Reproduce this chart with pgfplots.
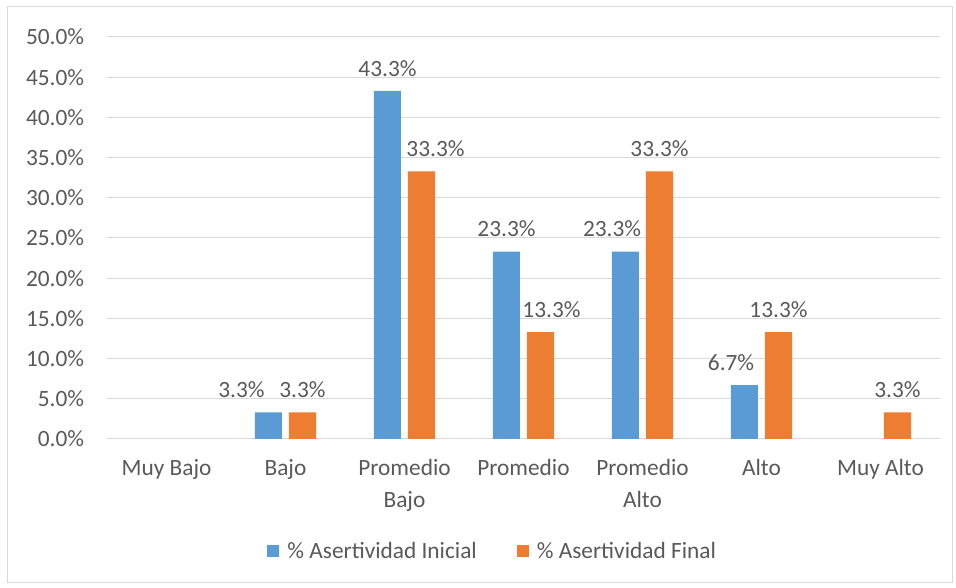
\documentclass[border=0pt]{standalone}
\usepackage{fontspec}
\setmainfont{Carlito}
\usepackage{pgfplots}
\usepackage{pgfplotstable}
\pgfplotsset{compat=1.18}
\definecolor{barblue}{RGB}{91,155,213}
\definecolor{barorange}{RGB}{237,125,49}
\definecolor{gridgray}{RGB}{217,217,217}
\definecolor{textgray}{RGB}{89,89,89}

% x = categoria, y = porcentaje, dx = desplazamiento de la etiqueta (pt)
\pgfplotstableread{
x y dx
1 3.3 -20.25
2 43.3 0
3 23.3 0
4 23.3 -10.1
5 6.7 -10.1
}\inicial
\pgfplotstableread{
x y dx
1 3.3 0
2 33.3 10.5
3 13.3 8.25
4 33.3 0
5 13.3 0
6 3.3 0
}\final

\begin{document}
\begin{tikzpicture}
\path[use as bounding box] (0pt,0pt) rectangle (717pt,441pt);
\draw[gridgray, line width=0.75pt] (5.25pt,3.75pt) rectangle (714pt,435.75pt);
\begin{axis}[
  at={(80.25pt,111.75pt)}, anchor=south west,
  scale only axis, width=624.75pt, height=301.5pt,
  ybar, bar width=20.25pt,
  ymin=0, ymax=50, ytick={0,5,...,50},
  xmin=-0.5, xmax=6.5, xtick={0,...,6},
  xticklabels={Muy Bajo, Bajo, {Promedio\\Bajo}, Promedio, {Promedio\\Alto}, Alto, Muy Alto},
  axis lines*=left,
  y axis line style={draw=none},
  x axis line style={gridgray, line width=0.75pt},
  major tick length=0pt,
  ymajorgrids, grid style={gridgray, line width=0.75pt},
  /pgf/number format/assume math mode=true,
  tick label style={font=\fontsize{17.5}{24}\selectfont, text=textgray},
  yticklabel={\pgfmathprintnumber[fixed,fixed zerofill,precision=1]{\tick}\%},
  yticklabel style={anchor=east, inner sep=0pt, xshift=-17pt},
  xticklabel style={align=center, anchor=north, inner sep=0pt, yshift=-15pt},
  nodes near coords={\pgfmathprintnumber[fixed,fixed zerofill,precision=1,assume math mode=true]{\pgfplotspointmeta}\%},
  every node near coord/.append style={font=\fontsize{17.5}{21}\selectfont, text=textgray, anchor=base, yshift=11pt},
  legend style={at={(0.4634,-0.2786)}, anchor=center, draw=none,
    font=\fontsize{17.5}{21}\selectfont, text=textgray,
    legend columns=2,
    /tikz/every odd column/.append style={column sep=4pt},
    /tikz/every even column/.append style={column sep=28pt}},
  legend image code/.code={\fill[#1] (0pt,-4.5pt) rectangle (9pt,4.5pt);},
]
\addplot[fill=barblue, draw=none, bar shift=-12.75pt,
  visualization depends on={\thisrow{dx} \as \dx},
  nodes near coords style={xshift=\dx pt}] table[x=x,y=y] {\inicial};
\addplot[fill=barorange, draw=none, bar shift=12.75pt,
  visualization depends on={\thisrow{dx} \as \dx},
  nodes near coords style={xshift=\dx pt}] table[x=x,y=y] {\final};
\legend{\% Asertividad Inicial, \% Asertividad Final}
\end{axis}
\end{tikzpicture}
\end{document}
